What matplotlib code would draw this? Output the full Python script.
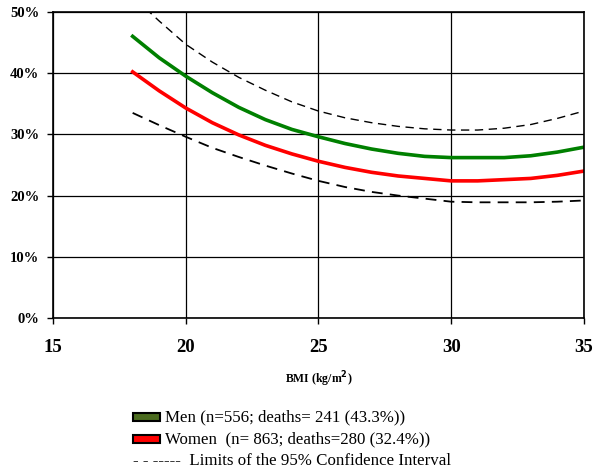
import numpy as np
import matplotlib.pyplot as plt
from matplotlib.patches import Rectangle

plt.rcParams['font.family'] = ['Liberation Serif', 'DejaVu Serif']

# BMI values and estimated mortality (%)
bmi = [18, 19, 20, 21, 22, 23, 24, 25, 26, 27, 28, 29, 30, 31, 32, 33, 34, 35]
men = [46.0, 42.5, 39.5, 36.8, 34.4, 32.4, 30.8, 29.6, 28.5, 27.6, 26.9, 26.4, 26.2, 26.2, 26.2, 26.5, 27.1, 27.9]
women = [40.2, 37.1, 34.3, 31.9, 29.9, 28.2, 26.8, 25.6, 24.6, 23.8, 23.2, 22.8, 22.4, 22.4, 22.6, 22.8, 23.3, 24.0]
ci_upper = [52.5, 48.5, 44.7, 41.8, 39.3, 37.2, 35.3, 33.8, 32.7, 31.9, 31.3, 30.9, 30.7, 30.7, 31.0, 31.6, 32.6, 33.8]
ci_lower = [33.5, 31.5, 29.6, 27.8, 26.3, 24.9, 23.6, 22.4, 21.4, 20.6, 20.0, 19.5, 19.0, 18.9, 18.9, 18.9, 19.0, 19.2]

xticks = [15, 20, 25, 30, 35]
yticks = [0, 10, 20, 30, 40, 50]

fig = plt.figure(figsize=(6.06, 4.74), dpi=100)
ax = fig.add_axes([0.0875, 0.329, 0.876, 0.646])

ax.plot(bmi, ci_upper, color='black', lw=1, dashes=(6, 4))
ax.plot(bmi, ci_lower, color='black', lw=1.3, dashes=(6, 4))
ax.plot(bmi, men, color='#008000', lw=2.6)
ax.plot(bmi, women, color='#ff0000', lw=2.6)

ax.set_xlim(15, 35)
ax.set_ylim(0, 50)
ax.set_xticks(xticks)
ax.set_yticks(yticks)
ax.set_yticklabels([f'{v}%' for v in yticks], fontsize=10.5, fontweight='bold')
ax.set_xticklabels([str(v) for v in xticks], fontsize=13.5, fontweight='bold')
ax.tick_params(direction='out', length=4, width=1, color='black', pad=6)
ax.tick_params(axis='x', pad=11)
ax.grid(True, color='black', lw=0.9)
ax.set_axisbelow(True)
for s in ax.spines.values():
    s.set_color('black')
    s.set_linewidth(1.2)

ax.set_xlabel('BMI (kg/m$^\\mathbf{2}$)', fontsize=8.5, fontweight='bold', labelpad=10)

# legend drawn by hand below the plot
fig.patches.append(Rectangle((133 / 606, 1 - 421 / 474), 27 / 606, 8 / 474,
                             transform=fig.transFigure, facecolor='#4b6b1f',
                             edgecolor='black', lw=1.5))
fig.patches.append(Rectangle((133 / 606, 1 - 443 / 474), 27 / 606, 8 / 474,
                             transform=fig.transFigure, facecolor='#ff0000',
                             edgecolor='black', lw=1.5))
fig.text(165 / 606, 1 - 417 / 474, 'Men (n=556; deaths= 241 (43.3%))',
         fontsize=12.2, va='center')
fig.text(165 / 606, 1 - 439 / 474, 'Women  (n= 863; deaths=280 (32.4%))',
         fontsize=12.2, va='center')
fig.text(133 / 606, 1 - 461 / 474, '- - -----  Limits of the 95% Confidence Interval',
         fontsize=12.2, va='center')

fig.savefig('out.png', dpi=100)
